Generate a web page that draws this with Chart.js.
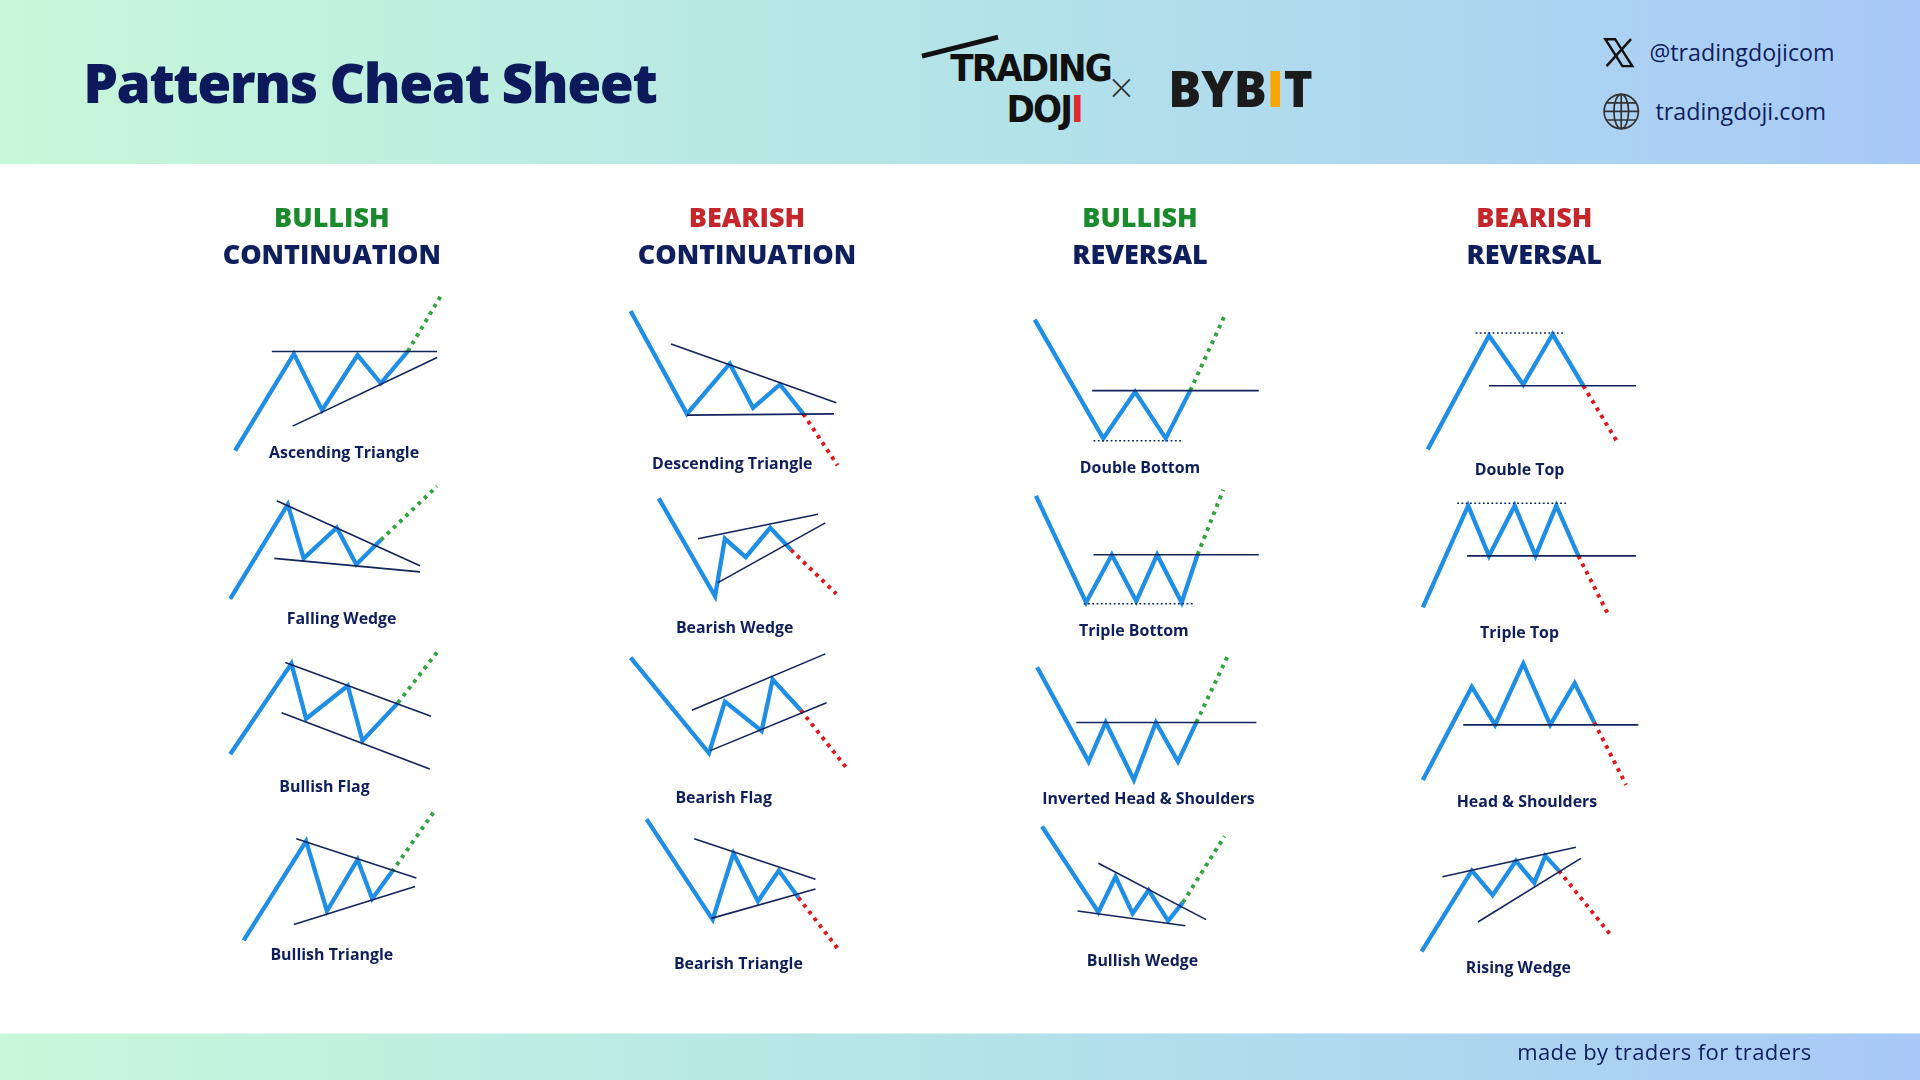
<!DOCTYPE html>
<html>
<head>
<meta charset="utf-8">
<script src="https://cdn.jsdelivr.net/npm/chart.js@4"></script>
<style>
  html, body { margin: 0; padding: 0; background: #fff; overflow: hidden; }
  #page { position: absolute; left: 0; top: 0; width: 1568px; height: 882px; transform: scale(1.22449); transform-origin: 0 0; font-family: "Open Sans", "Noto Sans", sans-serif; }
  .band { position: absolute; left: 0; width: 1568px; background: linear-gradient(90deg, #c9f7d9 0%, #b5e6e6 45%, #a8c9f7 100%); }
  #header { top: 0; height: 134px; }
  #footer { top: 844px; height: 38px; }
  .t { position: absolute; white-space: nowrap; }
  .head { position: absolute; transform: translateX(-50%); text-align: center; font-weight: 800; font-size: 22px; line-height: 31px; color: #0f1e5c; }
  .lbl { position: absolute; transform: translate(-50%, -50%); font-weight: 700; font-size: 13px; color: #0f1e5c; white-space: nowrap; }
  #plot { position: absolute; left: 0; top: 0; width: 1568px; height: 882px; pointer-events: none; }
</style>
</head>
<body>
<div id="page">
  <div id="header" class="band"></div>
  <div id="footer" class="band"></div>
  <div class="t" style="left:68px;top:36px;font-size:45px;font-weight:800;color:#0c1a5b;letter-spacing:-1.2px;">Patterns Cheat Sheet</div>
  <div class="t" style="left:776px;top:38px;font-size:31px;font-weight:700;line-height:34px;color:#111;font-family:'DejaVu Sans Condensed',sans-serif;letter-spacing:-1.5px;">TRADING<br><span style="margin-left:46px">DOJ<span style="color:#e0282e">I</span></span></div>
  <div class="t" style="left:752px;top:36px;width:64px;height:4px;background:#111;transform:rotate(-14deg);"></div>
  <div class="t" style="left:906px;top:48px;font-size:34px;font-weight:300;color:#333;">×</div>
  <div class="t" style="left:954px;top:44px;font-size:40px;font-weight:800;color:#1b1b1b;letter-spacing:0px;">BYB<span style="color:#f7a600">I</span>T</div>
  <svg class="t" style="left:1309px;top:30px" width="26" height="26" viewBox="0 0 26 26"><path d="M2 2 L10 2 L24 24 L16 24 Z" fill="none" stroke="#111" stroke-width="2"/><path d="M23 2 L3 24" stroke="#111" stroke-width="2"/></svg>
  <div class="t" style="left:1347px;top:30px;font-size:19px;color:#0f1e5c;">@tradingdojicom</div>
  <svg class="t" style="left:1308px;top:75px" width="32" height="32" viewBox="0 0 32 32"><g fill="none" stroke="#333" stroke-width="1.4"><circle cx="16" cy="16" r="14"/><ellipse cx="16" cy="16" rx="6" ry="14"/><path d="M2 16 H30 M4 9 H28 M4 23 H28 M16 2 V30"/></g></svg>
  <div class="t" style="left:1352px;top:78px;font-size:19px;color:#0f1e5c;">tradingdoji.com</div>

  <div class="head" style="left:271px;top:161px;"><span style="color:#1a8a2c">BULLISH</span><br>CONTINUATION</div>
  <div class="head" style="left:610px;top:161px;"><span style="color:#c4262b">BEARISH</span><br>CONTINUATION</div>
  <div class="head" style="left:931px;top:161px;"><span style="color:#1a8a2c">BULLISH</span><br>REVERSAL</div>
  <div class="head" style="left:1253px;top:161px;"><span style="color:#c4262b">BEARISH</span><br>REVERSAL</div>

  <div class="t" style="left:1239px;top:847px;font-size:18px;color:#0f1e5c;letter-spacing:0.3px;">made by traders for traders</div>
  <div id="labels"></div>
  <canvas id="plot" width="1568" height="882"></canvas>
</div>
<script>
// pattern names and label anchors
const names = ["Ascending Triangle", "Falling Wedge", "Bullish Flag", "Bullish Triangle",
  "Descending Triangle", "Bearish Wedge", "Bearish Flag", "Bearish Triangle",
  "Double Bottom", "Triple Bottom", "Inverted Head & Shoulders", "Bullish Wedge",
  "Double Top", "Triple Top", "Head & Shoulders", "Rising Wedge"];
const labelPos = [[281,369],[279,505],[265,642],[271,779],[598,378],[600,512],[591,651],[603,786],
  [931,381],[926,514],[938,652],[933,784],[1241,383],[1241,516],[1247,654],[1240,790]];

// price paths
const prices = [
  [[192,368],[240,289],[263,335],[292,290],[311,313],[333,287]],
  [[188,489],[235,412],[248,456],[275,431],[291,461],[311,441]],
  [[188,616],[238,542],[250,587],[284,560],[296,605],[325,574]],
  [[199,768],[250,687],[267,744],[292,702],[304,734],[320,712]],
  [[515,254],[561,338],[596,297],[615,333],[637,314],[656,338]],
  [[538,407],[584,487],[592,440],[609,455],[629,431],[646,449]],
  [[515,537],[579,615],[592,573],[622,597],[631,555],[654,580]],
  [[528,669],[582,751],[599,697],[619,736],[636,711],[652,733]],
  [[845,261],[901,358],[927,320],[952,358],[972,319]],
  [[846,405],[887,492],[908,453],[928,491],[945,453],[965,492],[978,453]],
  [[847,545],[889,622],[903,590],[926,637],[944,590],[962,622],[977,590]],
  [[851,675],[897,745],[911,716],[925,746],[938,727],[954,752],[966,737]],
  [[1166,367],[1216,274],[1244,314],[1268,273],[1293,315]],
  [[1162,496],[1199,413],[1216,454],[1237,413],[1254,454],[1271,413],[1289,454]],
  [[1162,637],[1202,561],[1221,592],[1244,542],[1266,592],[1286,558],[1302,590]],
  [[1161,777],[1202,711],[1219,731],[1238,703],[1253,721],[1262,699],[1273,711]]
];

// trend lines (solid)
const trendLines = [
  [[[222,287],[357,287]], [[239,348],[357,292]]],
  [[[226,409],[343,462]], [[224,456],[343,467]]],
  [[[233,541],[352,585]], [[230,582],[351,628]]],
  [[[242,685],[340,717]], [[240,755],[339,724]]],
  [[[548,281],[683,329]], [[561,339],[681,338]]],
  [[[570,440],[668,420]], [[586,476],[674,427]]],
  [[[565,580],[674,534]], [[580,613],[675,574]]],
  [[[567,685],[666,718]], [[581,750],[666,726]]],
  [[[892,319],[1028,319]]],
  [[[893,453],[1028,453]]],
  [[[879,590],[1026,590]]],
  [[[897,705],[985,751]], [[880,744],[968,756]]],
  [[[1216,315],[1336,315]]],
  [[[1198,454],[1336,454]]],
  [[[1195,592],[1338,592]]],
  [[[1178,716],[1287,692]], [[1207,753],[1291,701]]]
];

// thin dotted support / resistance levels
const dottedLevels = [null, null, null, null, null, null, null, null,
  [[893,360],[965,360]], [[885,493],[975,493]], null, null,
  [[1205,272],[1277,272]], [[1190,411],[1280,411]], null, null];

// breakouts
const breakouts = [
  [[333,287],[361,240]], [[311,441],[357,397]], [[325,574],[359,530]], [[320,712],[355,662]],
  [[656,338],[684,380]], [[646,449],[683,485]], [[654,580],[692,628]], [[652,733],[686,777]],
  [[972,319],[1000,258]], [[978,453],[999,400]], [[977,590],[1003,535]], [[966,737],[1000,683]],
  [[1293,315],[1322,363]], [[1289,454],[1314,503]], [[1302,590],[1328,641]], [[1273,711],[1315,763]]
];
const bullish = [true,true,true,true,false,false,false,false,true,true,true,true,false,false,false,false];

const toXY = pts => pts.map(p => ({ x: p[0], y: p[1] }));

const labels = document.getElementById("labels");
names.forEach((n, i) => {
  const d = document.createElement("div");
  d.className = "lbl";
  d.style.left = labelPos[i][0] + "px";
  d.style.top = labelPos[i][1] + "px";
  d.textContent = n;
  labels.appendChild(d);
});

const datasets = [];
prices.forEach((p, i) => {
  trendLines[i].forEach(l => datasets.push({ data: toXY(l), borderColor: "#13235e", borderWidth: 1.3 }));
  if (dottedLevels[i]) datasets.push({ data: toXY(dottedLevels[i]), borderColor: "#13235e", borderWidth: 1.2, borderDash: [1.5, 2] });
  datasets.push({ data: toXY(breakouts[i]), borderColor: bullish[i] ? "#2fa33d" : "#e3161b", borderWidth: 3.2, borderDash: [3, 4] });
  datasets.push({ data: toXY(p), borderColor: "#1f8ee6", borderWidth: 3.5, borderJoinStyle: "miter" });
});

new Chart(document.getElementById("plot"), {
  type: "scatter",
  data: { datasets: datasets.map(d => Object.assign({ showLine: true, pointRadius: 0, fill: false, tension: 0 }, d)) },
  options: {
    responsive: false,
    animation: false,
    devicePixelRatio: 1920 / 1568,
    layout: { padding: 0 },
    plugins: { legend: { display: false }, tooltip: { enabled: false } },
    scales: {
      x: { type: "linear", min: 0, max: 1568, display: false },
      y: { type: "linear", min: 0, max: 882, reverse: true, display: false }
    }
  }
});
</script>
</body>
</html>
